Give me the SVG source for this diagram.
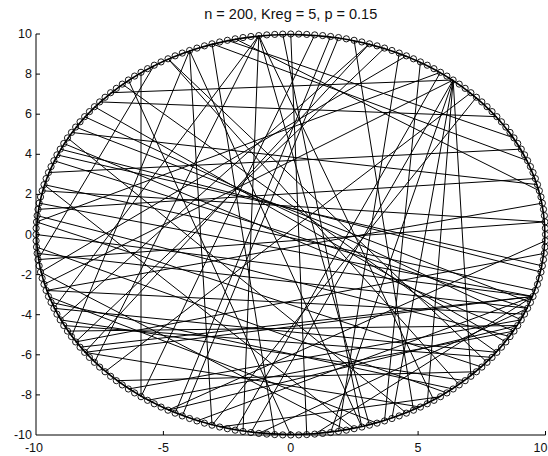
<svg xmlns="http://www.w3.org/2000/svg" xmlns:xlink="http://www.w3.org/1999/xlink" width="548" height="456" viewBox="0 0 548 456">
<style>
.ed line,.ed circle{stroke:#000;stroke-width:1;fill:none;vector-effect:non-scaling-stroke}
.ed circle{stroke-width:1.6}
.ax{stroke:#000;stroke-width:1;fill:none}
.tl{font-family:"Liberation Sans",Arial,sans-serif;font-size:12.5px;fill:#111}
.tt{font-family:"Liberation Sans",Arial,sans-serif;font-size:14.5px;fill:#111}
</style>
<defs>
<g id="qa" fill="none" stroke="#000" stroke-width="0.9">
<circle cx="254.63" cy="-6.30" r="3.1"/><circle cx="254.25" cy="-12.59" r="3.1"/><circle cx="253.62" cy="-18.87" r="3.1"/><circle cx="252.74" cy="-25.13" r="3.1"/><circle cx="251.61" cy="-31.36" r="3.1"/><circle cx="250.24" cy="-37.57" r="3.1"/><circle cx="248.62" cy="-43.74" r="3.1"/><circle cx="246.75" cy="-49.86" r="3.1"/><circle cx="244.63" cy="-55.94" r="3.1"/><circle cx="242.28" cy="-61.96" r="3.1"/><circle cx="239.69" cy="-67.92" r="3.1"/><circle cx="236.86" cy="-73.81" r="3.1"/><circle cx="233.80" cy="-79.63" r="3.1"/><circle cx="230.51" cy="-85.37" r="3.1"/><circle cx="226.98" cy="-91.02" r="3.1"/><circle cx="223.24" cy="-96.59" r="3.1"/><circle cx="219.27" cy="-102.06" r="3.1"/><circle cx="215.09" cy="-107.43" r="3.1"/><circle cx="210.70" cy="-112.70" r="3.1"/><circle cx="206.10" cy="-117.85" r="3.1"/><circle cx="201.29" cy="-122.89" r="3.1"/><circle cx="196.29" cy="-127.80" r="3.1"/><circle cx="191.09" cy="-132.59" r="3.1"/><circle cx="185.70" cy="-137.25" r="3.1"/><circle cx="180.14" cy="-141.78" r="3.1"/><circle cx="174.39" cy="-146.16" r="3.1"/><circle cx="168.47" cy="-150.40" r="3.1"/><circle cx="162.38" cy="-154.49" r="3.1"/><circle cx="156.14" cy="-158.43" r="3.1"/><circle cx="149.74" cy="-162.21" r="3.1"/><circle cx="143.19" cy="-165.83" r="3.1"/><circle cx="136.50" cy="-169.29" r="3.1"/><circle cx="129.68" cy="-172.58" r="3.1"/><circle cx="122.73" cy="-175.70" r="3.1"/><circle cx="115.65" cy="-178.65" r="3.1"/><circle cx="108.47" cy="-181.42" r="3.1"/><circle cx="101.17" cy="-184.01" r="3.1"/><circle cx="93.78" cy="-186.42" r="3.1"/><circle cx="86.29" cy="-188.65" r="3.1"/><circle cx="78.72" cy="-190.69" r="3.1"/><circle cx="71.07" cy="-192.54" r="3.1"/><circle cx="63.35" cy="-194.20" r="3.1"/><circle cx="55.57" cy="-195.67" r="3.1"/><circle cx="47.74" cy="-196.95" r="3.1"/><circle cx="39.85" cy="-198.03" r="3.1"/><circle cx="31.93" cy="-198.92" r="3.1"/><circle cx="23.97" cy="-199.61" r="3.1"/><circle cx="16.00" cy="-200.10" r="3.1"/><circle cx="8.00" cy="-200.40" r="3.1"/>
</g>
<g id="qf" fill="none" stroke="#000" stroke-width="0.9"><use href="#qa" xlink:href="#qa"/><circle cx="254.75" cy="0" r="3.1"/><circle cx="0" cy="-200.5" r="3.1"/></g>
</defs>
<rect width="548" height="456" fill="#fff"/>
<text class="tt" x="290.75" y="19" text-anchor="middle">n = 200, Kreg = 5, p = 0.15</text>
<g id="axes">
<path class="ax" d="M36,34V435H545.5M36,34h4M36,74.1h4M36,114.2h4M36,154.3h4M36,194.4h4M36,234.5h4M36,274.6h4M36,314.7h4M36,354.8h4M36,394.9h4M163.4,435v-4M290.75,435v-4M418.1,435v-4M545.5,435v-4"/>
<g class="tl" text-anchor="end">
<text x="32" y="38">10</text><text x="32" y="78.1">8</text><text x="32" y="118.2">6</text><text x="32" y="158.3">4</text><text x="32" y="198.4">2</text><text x="32" y="238.5">0</text><text x="32" y="278.6">-2</text><text x="32" y="318.7">-4</text><text x="32" y="358.8">-6</text><text x="32" y="398.9">-8</text><text x="32" y="439">-10</text>
</g>
<g class="tl" text-anchor="middle">
<text x="34" y="452">-10</text><text x="163.4" y="452">-5</text><text x="290.75" y="452">0</text><text x="418.1" y="452">5</text>
</g>
<text class="tl" x="547.5" y="452" text-anchor="end">10</text>
</g>
<g id="edges" class="ed" transform="matrix(2.5475 0 0 -2.005 290.75 234.5)">
<circle cx="0" cy="0" r="99.75"/>
<line x1="-58.78" y1="80.90" x2="-58.78" y2="-80.90"/>
<line x1="-12.53" y1="99.21" x2="-18.74" y2="-98.23"/>
<line x1="-70.71" y1="70.71" x2="63.74" y2="77.05"/>
<line x1="-80.90" y1="58.78" x2="90.48" y2="-42.58"/>
<line x1="-84.43" y1="53.58" x2="94.09" y2="-33.87"/>
<line x1="-89.10" y1="45.40" x2="87.63" y2="-48.18"/>
<line x1="-12.53" y1="99.21" x2="-92.98" y2="-36.81"/>
<line x1="-12.53" y1="99.21" x2="30.90" y2="-95.11"/>
<line x1="-12.53" y1="99.21" x2="56.21" y2="-82.71"/>
<line x1="-39.72" y1="91.78" x2="-86.07" y2="-50.90"/>
<line x1="-39.72" y1="91.78" x2="27.90" y2="-96.03"/>
<line x1="-96.03" y1="-27.90" x2="91.78" y2="-39.72"/>
<line x1="-96.03" y1="-27.90" x2="98.77" y2="15.64"/>
<line x1="-63.74" y1="-77.05" x2="90.48" y2="-42.58"/>
<line x1="-56.21" y1="-82.71" x2="87.63" y2="-48.18"/>
<line x1="-98.77" y1="15.64" x2="95.11" y2="-30.90"/>
<line x1="-100" y1="0" x2="95.11" y2="-30.90"/>
<line x1="63.74" y1="77.05" x2="-15.64" y2="-98.77"/>
<line x1="63.74" y1="77.05" x2="15.64" y2="-98.77"/>
<line x1="63.74" y1="77.05" x2="39.72" y2="-91.78"/>
<line x1="63.74" y1="77.05" x2="53.58" y2="-84.43"/>
<line x1="63.74" y1="77.05" x2="70.71" y2="-70.71"/>
<line x1="63.74" y1="77.05" x2="-96.86" y2="-24.87"/>
<line x1="-3.14" y1="99.95" x2="27.90" y2="-96.03"/>
<line x1="0" y1="100" x2="6.28" y2="-99.80"/>
<line x1="9.41" y1="99.56" x2="-58.78" y2="-80.90"/>
<line x1="24.87" y1="96.86" x2="48.18" y2="-87.63"/>
<line x1="36.81" y1="92.98" x2="-84.43" y2="-53.58"/>
<line x1="-30.90" y1="95.11" x2="92.98" y2="36.81"/>
<line x1="-21.81" y1="97.59" x2="97.59" y2="21.81"/>
<line x1="-12.53" y1="99.21" x2="-77.05" y2="-63.74"/>
<line x1="-39.72" y1="91.78" x2="-30.90" y2="-95.11"/>
<line x1="-48.18" y1="87.63" x2="77.05" y2="-63.74"/>
<line x1="-63.74" y1="77.05" x2="0" y2="-100"/>
<line x1="-75.01" y1="66.13" x2="80.90" y2="58.78"/>
<line x1="-92.98" y1="36.81" x2="92.98" y2="-36.81"/>
<line x1="-95.11" y1="30.90" x2="90.48" y2="42.58"/>
<line x1="-96.86" y1="24.87" x2="96.03" y2="-27.90"/>
<line x1="-99.56" y1="9.41" x2="86.07" y2="-50.90"/>
<line x1="-99.56" y1="-9.41" x2="92.98" y2="-36.81"/>
<line x1="-98.23" y1="-18.74" x2="45.40" y2="89.10"/>
<line x1="-90.48" y1="-42.58" x2="30.90" y2="95.11"/>
<line x1="-87.63" y1="-48.18" x2="89.10" y2="-45.40"/>
<line x1="-80.90" y1="-58.78" x2="95.11" y2="-30.90"/>
<line x1="-72.90" y1="-68.46" x2="70.71" y2="70.71"/>
<line x1="-68.46" y1="-72.90" x2="72.90" y2="-68.46"/>
<line x1="-42.58" y1="-90.48" x2="18.74" y2="98.23"/>
<line x1="-36.81" y1="-92.98" x2="95.11" y2="-30.90"/>
<line x1="-27.90" y1="-96.03" x2="58.78" y2="-80.90"/>
<line x1="-21.81" y1="-97.59" x2="58.78" y2="80.90"/>
<line x1="-12.53" y1="-99.21" x2="92.98" y2="-36.81"/>
<line x1="-6.28" y1="-99.80" x2="-30.90" y2="95.11"/>
<line x1="18.74" y1="-98.23" x2="42.58" y2="90.48"/>
<line x1="24.87" y1="-96.86" x2="-96.86" y2="24.87"/>
<line x1="33.87" y1="-94.09" x2="-95.11" y2="-30.90"/>
<line x1="50.90" y1="-86.07" x2="-80.90" y2="-58.78"/>
<line x1="61.29" y1="-79.02" x2="-99.80" y2="-6.28"/>
<line x1="66.13" y1="-75.01" x2="-48.18" y2="87.63"/>
<line x1="75.01" y1="-66.13" x2="-99.80" y2="6.28"/>
<line x1="80.90" y1="-58.78" x2="-92.98" y2="-36.81"/>
<line x1="84.43" y1="-53.58" x2="-77.05" y2="63.74"/>
<line x1="98.23" y1="-18.74" x2="-90.48" y2="42.58"/>
<line x1="99.56" y1="-9.41" x2="-84.43" y2="-53.58"/>
<line x1="99.95" y1="-3.14" x2="-48.18" y2="-87.63"/>
<line x1="99.80" y1="6.28" x2="-99.21" y2="-12.53"/>
<line x1="96.03" y1="27.90" x2="-99.21" y2="12.53"/>
<line x1="72.90" y1="68.46" x2="-30.90" y2="-95.11"/>
<line x1="58.78" y1="80.90" x2="-99.80" y2="6.28"/>
<line x1="50.90" y1="86.07" x2="36.81" y2="-92.98"/>
<line x1="30.90" y1="95.11" x2="-80.90" y2="-58.78"/>
<line x1="15.64" y1="98.77" x2="-45.40" y2="-89.10"/>
<line x1="-24.87" y1="96.86" x2="87.63" y2="48.18"/>
<line x1="-53.58" y1="84.43" x2="-99.21" y2="-12.53"/>
<line x1="-66.13" y1="75.01" x2="80.90" y2="-58.78"/>
<line x1="-86.07" y1="50.90" x2="96.86" y2="24.87"/>
<line x1="-91.78" y1="39.72" x2="98.77" y2="-15.64"/>
<line x1="-97.59" y1="21.81" x2="99.80" y2="6.28"/>
<line x1="-94.09" y1="-33.87" x2="63.74" y2="-77.05"/>
<line x1="-82.71" y1="-56.21" x2="95.11" y2="-30.90"/>
<line x1="-48.18" y1="-87.63" x2="89.10" y2="-45.40"/>
<line x1="9.41" y1="-99.56" x2="95.11" y2="-30.90"/>
<line x1="21.81" y1="-97.59" x2="-98.23" y2="-18.74"/>
<line x1="45.40" y1="-89.10" x2="-87.63" y2="48.18"/>
<line x1="68.46" y1="-72.90" x2="-90.48" y2="-42.58"/>
<line x1="79.02" y1="-61.29" x2="-89.10" y2="-45.40"/>
</g>
<g id="nodes" transform="translate(290.75,234.5)">
<use href="#qf" xlink:href="#qf"/>
<use href="#qf" xlink:href="#qf" transform="scale(-1,-1)"/>
<use href="#qa" xlink:href="#qa" transform="scale(-1,1)"/>
<use href="#qa" xlink:href="#qa" transform="scale(1,-1)"/>
</g>
</svg>
